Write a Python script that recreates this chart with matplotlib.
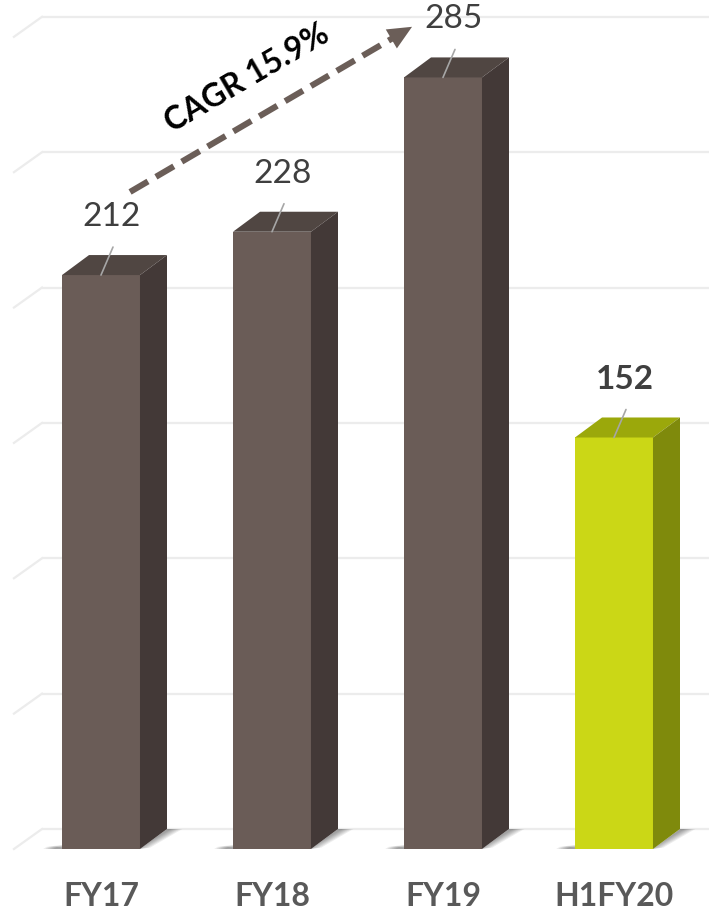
import numpy as np
import matplotlib.pyplot as plt
from matplotlib.patches import Polygon

categories = ["FY17", "FY18", "FY19", "H1FY20"]
values = [212, 228, 285, 152]
label_bold = [False, False, False, True]
grid_values = [0, 50, 100, 150, 200, 250, 300]
cagr_text = "CAGR 15.9%"

brown = {"front": "#6a5c57", "top": "#504642", "side": "#433937"}
green = {"front": "#cbd716", "top": "#9ba80b", "side": "#7f8a0c"}
face_colors = [brown, brown, brown, green]

plt.rcParams["font.family"] = ["Lato", "DejaVu Sans"]

fig = plt.figure(figsize=(7.09, 9.15), dpi=100)
ax = fig.add_axes([0, 0, 1, 1])
ax.set_xlim(-0.5906, 3.5556)
ax.set_ylim(-24.38, 313.6)
ax.axis("off")

x = list(range(len(categories)))
width = 0.456
ddx, ddv = 0.158, 7.39  # depth offset of the 3D boxes

# back wall gridlines with the slanted floor/side edge on the left
for g in grid_values:
    ax.plot([-0.345, 3.6], [g + ddv, g + ddv], color="#ececec", lw=1.6, zorder=1,
            solid_capstyle="butt")
    ax.plot([-0.509, -0.345], [g, g + ddv], color="#ececec", lw=1.6, zorder=1)

# soft shadows at the base of each box
for xi in x:
    left = xi - width / 2
    right = xi + width / 2
    for k in range(6):
        a = 0.07
        s = k * 0.012
        ax.add_patch(Polygon([(left - 0.11 + s, 0), (left, 0), (left, 1.5 - k * 0.2),
                              (left - 0.09 + s, 0.8)],
                             closed=True, fc="black", ec="none", alpha=a, zorder=2))
        ax.add_patch(Polygon([(right, 0), (right + ddx, ddv),
                              (right + ddx + 0.09 - s, ddv), (right + 0.06 - s, 0.5)],
                             closed=True, fc="black", ec="none", alpha=a, zorder=2))

# 3D boxes: front from bar(), top and side faces added as polygons
bars = ax.bar(x, values, width=width, color=[c["front"] for c in face_colors],
              edgecolor="none", zorder=4)
for xi, v, c in zip(x, values, face_colors):
    left = xi - width / 2
    right = xi + width / 2
    ax.add_patch(Polygon([(left, v), (right, v), (right + ddx, v + ddv), (left + ddx, v + ddv)],
                         closed=True, fc=c["top"], ec="none", zorder=4))
    ax.add_patch(Polygon([(right, 0), (right + ddx, ddv), (right + ddx, v + ddv), (right, v)],
                         closed=True, fc=c["side"], ec="none", zorder=4))

# value labels with short leader lines
for xi, v, b in zip(x, values, label_bold):
    ax.annotate("", xy=(xi, v), xytext=(12, 28), textcoords="offset pixels",
                arrowprops=dict(arrowstyle="-", color="#a6a6a6", lw=1.2,
                                shrinkA=0, shrinkB=0), zorder=5)
    ax.annotate(str(v), xy=(xi, v), xytext=(11, 58), textcoords="offset pixels",
                ha="center", va="center", fontsize=24, color="#3f3f3f",
                fontweight="bold" if b else "normal", zorder=6)

# category labels below the floor
for xi, cat in zip(x, categories):
    ax.text(xi, -17.7, cat, ha="center", va="center", fontsize=23,
            fontweight="bold", color="#595959")

# CAGR growth arrow: dashed shaft plus a solid triangular head
arrow_color = "#6b5e58"
start = (0.17, 242.7)
tip = (1.819, 303.7)
to_px = ax.transData
p0 = to_px.transform(start)
p1 = to_px.transform(tip)
u = (p1 - p0) / np.hypot(*(p1 - p0))
n = np.array([-u[1], u[0]])
head_len, head_half = 24, 11
base = p1 - u * head_len
head_px = np.array([p1, base + n * head_half, base - n * head_half])
head = to_px.inverted().transform(head_px)
shaft_end = to_px.inverted().transform(base + u * 2)

ax.plot([start[0], shaft_end[0]], [start[1], shaft_end[1]], color=arrow_color, lw=4.4,
        dashes=(3.4, 1.5), solid_capstyle="butt", zorder=6)
ax.add_patch(Polygon(head, closed=True, fc=arrow_color, ec="none", zorder=6))
ax.text(0.854, 284.8, cagr_text, rotation=30.3, rotation_mode="anchor",
        ha="center", va="center", fontsize=23, fontweight="bold", color="black", zorder=6)

fig.savefig("out.png", dpi=100)
